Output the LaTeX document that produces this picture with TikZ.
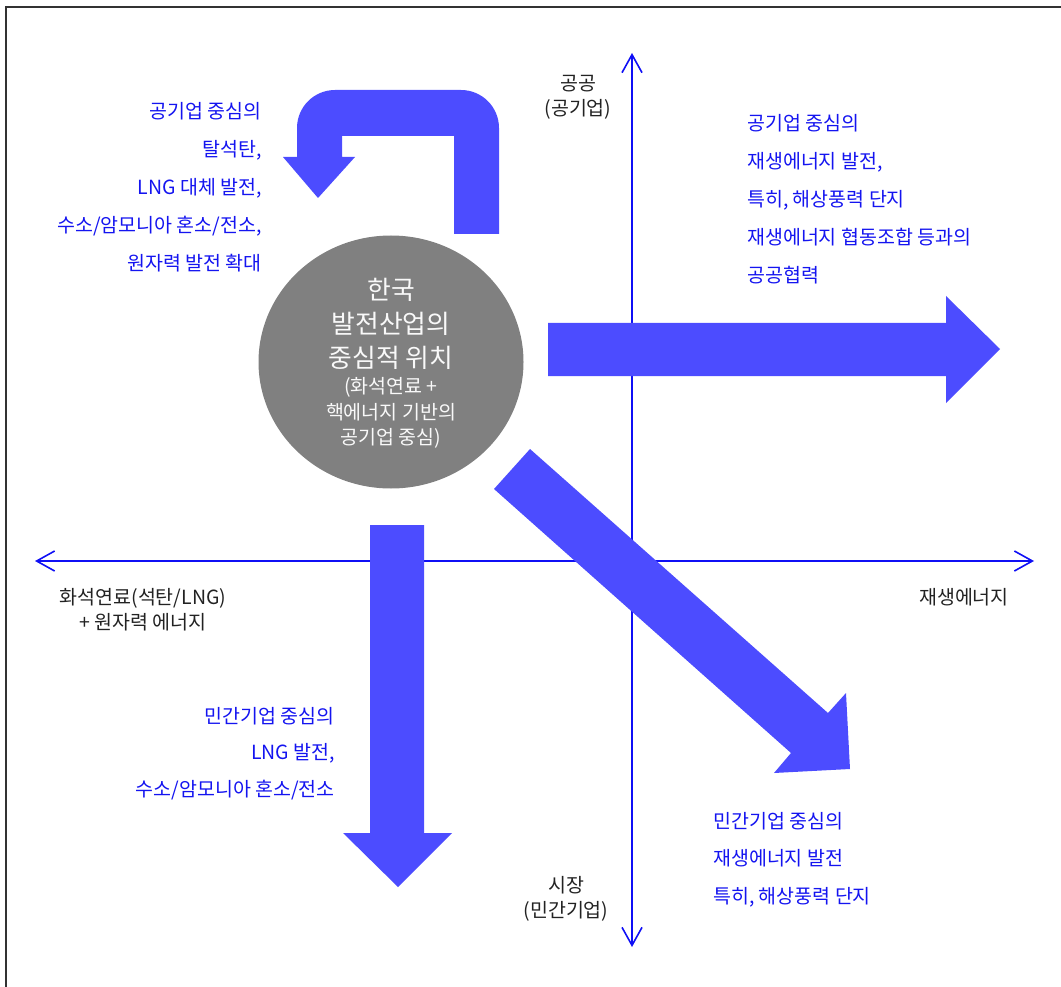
\documentclass[tikz,border=0pt]{standalone}
\usepackage{fontspec}
\setmainfont{Noto Sans CJK KR}
\usetikzlibrary{arrows.meta,shapes.geometric}
\definecolor{bigblue}{RGB}{76,76,255}
\definecolor{txtblue}{RGB}{20,20,240}
\definecolor{axisblue}{RGB}{15,15,245}
\definecolor{framegray}{RGB}{50,50,50}
\definecolor{circgray}{RGB}{128,128,128}
\definecolor{labgray}{RGB}{34,34,34}
\tikzset{axbarb/.tip={Straight Barb[length=18pt,width=20pt]}}
\begin{document}
\begin{tikzpicture}[x=1pt,y=-1pt,
  bigarrow/.style={fill=bigblue,draw=none},
  axisline/.style={draw=axisblue,line width=1.6pt,axbarb-axbarb},
  bluetxt/.style={text=txtblue,font=\fontsize{19.5}{38}\selectfont,inner sep=0pt},
  axtxt/.style={text=labgray,font=\fontsize{19.5}{25}\selectfont,inner sep=0pt,align=center},
  hubshape/.style={ellipse,fill=circgray,draw=none,inner sep=0pt,minimum width=265pt,minimum height=253pt},
  hubtitle/.style={text=white!95!gray,font=\fontsize{25.8}{34}\selectfont,inner sep=0pt,align=center},
  hubsub/.style={text=white!95!gray,font=\fontsize{19.5}{25.5}\selectfont,inner sep=0pt,align=center}
]
\useasboundingbox (0,0) rectangle (1061,987);
% frame (partially visible)
\draw[framegray,line width=2pt] (5.5,987) -- (5.5,7.5) -- (1061,7.5);

% axes
\coordinate (xl) at (35,561);
\coordinate (xr) at (1034,561);
\coordinate (yt) at (632,53);
\coordinate (yb) at (632,947);
\draw[axisline] (xl) -- (xr);
\draw[axisline] (yb) -- (yt);

% hub circle
\node[hubshape] (hub) at (391,362) {};
\node[hubtitle] (hubt) at (391,324) {한국\\발전산업의\\중심적 위치};
\node[hubsub] (hubs) at (391,413) {(화석연료 +\\핵에너지 기반의\\공기업 중심)};

% U-turn arrow (top)
\fill[bigarrow] (454,234) -- (454,136) -- (342,136) -- (342,157) -- (355,157)
  -- (318,198) -- (283,157) -- (297,157) -- (297,128)
  arc[start angle=180,end angle=270,radius=38] -- (461,90)
  arc[start angle=270,end angle=360,radius=38] -- (499,234) -- cycle;

% right arrow
\fill[bigarrow] (548,323) -- (946,323) -- (946,296) -- (1000,349) -- (946,403)
  -- (946,376) -- (548,376) -- cycle;

% down arrow
\fill[bigarrow] (370,525) -- (424,525) -- (424,833) -- (452,833) -- (398,887)
  -- (343,833) -- (370,833) -- cycle;

% diagonal arrow
\fill[bigarrow] (530,449) -- (828,713) -- (846,693) -- (850,769) -- (774,773)
  -- (791,753) -- (494,489) -- cycle;

% axis labels
\node[axtxt] (ytop) at (578,97.5) {공공\\(공기업)};
\node[axtxt] (ybot) at (566,899) {시장\\(민간기업)};
\node[axtxt] (xleft) at (143,610) {화석연료(석탄/LNG)\\+ 원자력 에너지};
\node[axtxt] (xright) at (964,597) {재생에너지};

% blue descriptions
\node[bluetxt,align=right,anchor=east] (tl) at (262,187)
  {공기업 중심의\\탈석탄,\\LNG 대체 발전,\\수소/암모니아 혼소/전소,\\원자력 발전 확대};
\node[bluetxt,align=left,anchor=west] (tr) at (747,199.5)
  {공기업 중심의\\재생에너지 발전,\\특히, 해상풍력 단지\\재생에너지 협동조합 등과의\\공공협력};
\node[bluetxt,align=right,anchor=east,font=\fontsize{19.5}{36.5}\selectfont] (bl) at (335,753.5)
  {민간기업 중심의\\LNG 발전,\\수소/암모니아 혼소/전소};
\node[bluetxt,align=left,anchor=west,font=\fontsize{19.5}{37.5}\selectfont] (br) at (713,859.5)
  {민간기업 중심의\\재생에너지 발전\\특히, 해상풍력 단지};
\end{tikzpicture}
\end{document}
